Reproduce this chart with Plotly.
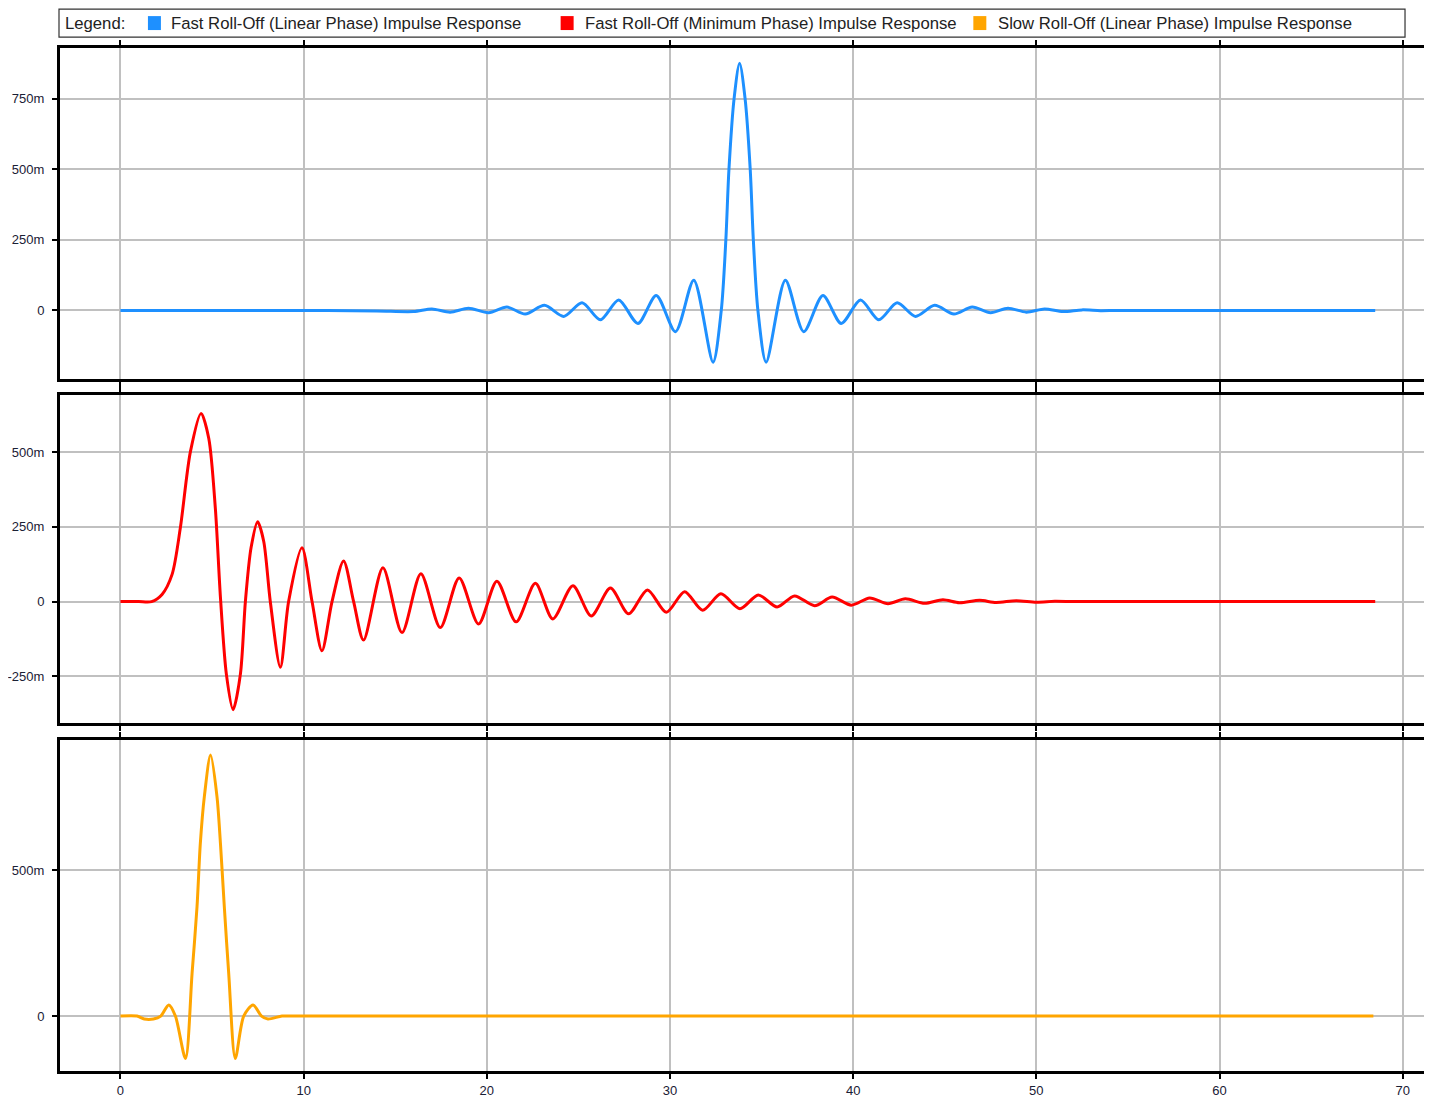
import plotly.graph_objects as go

# ---------------- data ----------------
blue_t = [0, 9.5, 14.0, 16.0, 17.0, 18.0, 19.0, 20.1, 21.1, 22.1, 23.15, 24.2, 25.2, 26.2,
          27.2, 28.25, 29.25, 30.3, 31.3, 32.35, 32.8, 33.05, 33.22, 33.5, 33.8, 34.1,
          34.38, 34.55, 34.8, 35.25, 36.3, 37.3, 38.35, 39.35, 40.4, 41.4, 42.4, 43.4,
          44.45, 45.5, 46.5, 47.5, 48.45, 49.45, 50.45, 51.45, 52.5, 53.5, 54.5, 68.5]
blue_v = [0, 0, -0.002, -0.004, 0.005, -0.006, 0.008, -0.008, 0.012, -0.013, 0.018, -0.021,
          0.027, -0.033, 0.037, -0.046, 0.053, -0.075, 0.107, -0.183, 0, 0.25, 0.5, 0.75,
          0.875, 0.75, 0.5, 0.25, 0, -0.183, 0.107, -0.075, 0.053, -0.046, 0.037, -0.033,
          0.027, -0.021, 0.018, -0.013, 0.012, -0.008, 0.008, -0.006, 0.005, -0.004, 0.002,
          -0.001, 0, 0]

red_t = [0, 1.0, 1.7, 2.27, 2.82, 3.27, 3.82, 4.4, 4.82, 5.18, 5.46, 5.78, 6.15, 6.55, 6.82,
         7.13, 7.49, 7.82, 8.18, 8.73, 9.18, 9.91, 10.46, 11.0, 11.55, 12.18, 12.73, 13.27,
         14.33, 15.37, 16.4, 17.46, 18.49, 19.55, 20.55, 21.6, 22.65, 23.6, 24.7, 25.7,
         26.75, 27.74, 28.77, 29.8, 30.8, 31.78, 32.78, 33.82, 34.82, 35.85, 36.8, 37.9,
         38.85, 39.9, 40.9, 41.9, 42.85, 43.9, 44.9, 45.8, 46.9, 47.8, 48.9, 50.0, 51.0,
         52.0, 53.0, 68.5]
red_v = [0, 0, 0, 0.024, 0.091, 0.247, 0.502, 0.63, 0.547, 0.313, 0.013, -0.242, -0.362,
         -0.242, 0.0, 0.18, 0.267, 0.202, 0.0, -0.22, 0, 0.18, 0, -0.165, 0, 0.136, 0,
         -0.129, 0.113, -0.104, 0.093, -0.087, 0.079, -0.075, 0.068, -0.068, 0.061, -0.058,
         0.053, -0.048, 0.045, -0.041, 0.039, -0.036, 0.033, -0.029, 0.026, -0.024, 0.022,
         -0.018, 0.019, -0.014, 0.015, -0.012, 0.012, -0.007, 0.009, -0.006, 0.006, -0.004,
         0.004, -0.003, 0.003, -0.002, 0.001, 0, 0, 0]

orange_t = [0, 0.9, 1.3, 1.8, 2.2, 2.64, 3.0, 3.55, 3.91, 4.18, 4.36, 4.58, 4.92, 5.27,
            5.46, 5.67, 5.91, 6.27, 6.73, 7.24, 7.7, 8.05, 8.82, 9.4, 10.0, 68.4]
orange_v = [0, 0, -0.01, -0.01, 0, 0.038, 0, -0.145, 0.146, 0.374, 0.59, 0.751, 0.893,
            0.751, 0.59, 0.374, 0.146, -0.145, 0, 0.038, 0, -0.01, 0, 0, 0, 0]

series_names = ["Fast Roll-Off (Linear Phase) Impulse Response",
                "Fast Roll-Off (Minimum Phase) Impulse Response",
                "Slow Roll-Off (Linear Phase) Impulse Response"]
series_colors = ["#1E90FF", "#FF0000", "#FFA500"]

x_ticks = [0, 10, 20, 30, 40, 50, 60, 70]
x_ticktext = ["0", "10", "20", "30", "40", "50", "60", "70"]
top_ticks = [0, 0.25, 0.5, 0.75]
top_ticktext = ["0", "250m", "500m", "750m"]
mid_ticks = [-0.25, 0, 0.25, 0.5]
mid_ticktext = ["-250m", "0", "250m", "500m"]
bot_ticks = [0, 0.5]
bot_ticktext = ["0", "500m"]

# ---------------- layout geometry ----------------
# the page adds an 8px body margin, so the figure is made 8px smaller and
# positions below are given in window pixels
OFF = 8
W, H = 1432 - OFF, 1098 - OFF
ML, MR, MT, MB = 59 - OFF, 0, 48 - OFF, 24
PW = W - ML - MR
PH = H - MT - MB

def fy(py):
    return (1074 - py) / PH

def fx(px):
    return (px - 59) / PW

X_RANGE = [-3.3, 71.6]
FONT = "Liberation Sans, Arial, sans-serif"
TICKCOL = "#1a2035"
GRID = "#c0c0c0"

fig = go.Figure()
data = [(blue_t, blue_v), (red_t, red_v), (orange_t, orange_v)]
for i, (t, v) in enumerate(data):
    fig.add_trace(go.Scatter(
        x=t, y=v, mode="lines", name=series_names[i],
        line=dict(color=series_colors[i], width=3, shape="spline", smoothing=0.8),
        xaxis="x" if i == 0 else f"x{i+1}", yaxis="y" if i == 0 else f"y{i+1}",
        showlegend=False, hoverinfo="x+y"))

domains = [[fy(379.5), 1.0], [fy(724.5), fy(396.5)], [0.0, fy(742.5)]]
yranges = [[-0.241, 0.929], [-0.405, 0.69], [-0.188, 0.943]]
yticks = [(top_ticks, top_ticktext), (mid_ticks, mid_ticktext), (bot_ticks, bot_ticktext)]

layout = dict(
    width=W, height=H, margin=dict(l=ML, r=MR, t=MT, b=MB),
    paper_bgcolor="white", plot_bgcolor="white", showlegend=False,
    font=dict(family=FONT, size=13, color=TICKCOL),
)
for i in range(3):
    xa = "xaxis" if i == 0 else f"xaxis{i+1}"
    ya = "yaxis" if i == 0 else f"yaxis{i+1}"
    yid = "y" if i == 0 else f"y{i+1}"
    xid = "x" if i == 0 else f"x{i+1}"
    layout[xa] = dict(
        domain=[0, 1], anchor=yid, range=X_RANGE, tickmode="array",
        tickvals=x_ticks, ticktext=x_ticktext, showticklabels=(i == 2),
        showgrid=True, gridcolor=GRID, gridwidth=1.5, zeroline=False,
        showline=True, linecolor="black", linewidth=3, mirror="ticks",
        ticks="outside", ticklen=5, tickcolor="black", tickwidth=1.5,
        tickfont=dict(family=FONT, size=13, color=TICKCOL), fixedrange=True)
    layout[ya] = dict(
        domain=domains[i], anchor=xid, range=yranges[i], tickmode="array",
        tickvals=yticks[i][0], ticktext=yticks[i][1],
        showgrid=True, gridcolor=GRID, gridwidth=1.5, zeroline=False,
        showline=True, linecolor="black", linewidth=3, mirror=False,
        ticks="outside", ticklen=5, tickcolor="black", tickwidth=1.5,
        ticklabelstandoff=5,
        tickfont=dict(family=FONT, size=13, color=TICKCOL), fixedrange=True)
fig.update_layout(**layout)

# ---------------- custom legend box ----------------
shapes = [dict(type="rect", xref="paper", yref="paper",
               x0=fx(58), x1=fx(1405), y0=fy(37), y1=fy(9),
               line=dict(color="#333333", width=1.2), fillcolor="white")]
annotations = [dict(text="Legend:", xref="paper", yref="paper", x=fx(62), y=fy(23),
                    xanchor="left", yanchor="middle", showarrow=False,
                    font=dict(family=FONT, size=16.7, color="#222222"))]
sq_x = [147, 560, 973]
txt_x = [168, 582, 996]
for i in range(3):
    shapes.append(dict(type="rect", xref="paper", yref="paper",
                       x0=fx(sq_x[i]), x1=fx(sq_x[i] + 13), y0=fy(30), y1=fy(16),
                       line=dict(width=0), fillcolor=series_colors[i]))
    annotations.append(dict(text=series_names[i], xref="paper", yref="paper",
                            x=fx(txt_x[i]), y=fy(23), xanchor="left", yanchor="middle",
                            showarrow=False,
                            font=dict(family=FONT, size=16.7, color="#222222")))
fig.update_layout(shapes=shapes, annotations=annotations)

fig.write_html("out.html")
